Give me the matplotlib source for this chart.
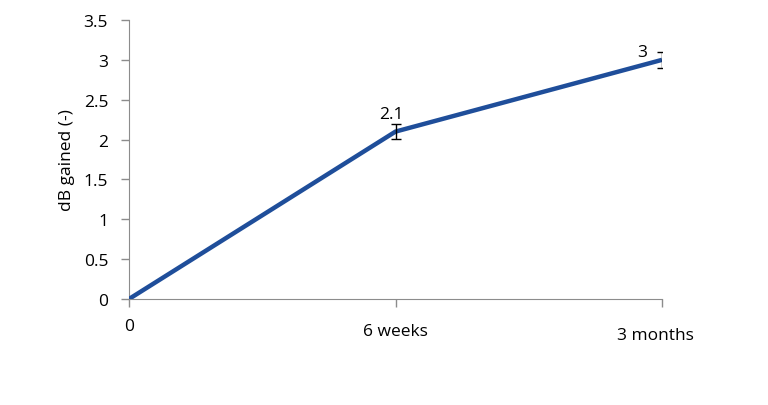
import matplotlib.pyplot as plt
import matplotlib.transforms as mtransforms

# Data
labels = ['0', '6 weeks', '3 months']
values = [0, 2.1, 3]
errors = [0, 0.09, 0.1]
label_shift = [(0, 0), (0, -5), (-7, -9)]  # Excel-style staggered tick labels (px)

plt.rcParams['font.family'] = ['Open Sans', 'DejaVu Sans']
fs = 12.5

fig = plt.figure(figsize=(7.68, 4.06), dpi=100)
ax = fig.add_axes([129 / 768, 1 - 300 / 406, 533 / 768, 279 / 406])

x = list(range(len(values)))
ax.plot(x, values, color='#1f4e9a', lw=3.2, solid_capstyle='butt', zorder=3)
ax.errorbar(x[1:], values[1:], yerr=errors[1:], fmt='none', ecolor='black',
            elinewidth=1, capsize=3.5, capthick=1, zorder=4)

# Data labels
ax.annotate('2.1', (x[1], values[1]), xytext=(-3, 7), textcoords='offset points',
            ha='center', va='bottom', fontsize=fs)
ax.annotate('3', (x[2], values[2]), xytext=(-14, 0), textcoords='offset points',
            ha='center', va='bottom', fontsize=fs)

ax.set_xlim(0, 2)
ax.set_ylim(0, 3.5)
ax.set_yticks([0, 0.5, 1, 1.5, 2, 2.5, 3, 3.5])
ax.set_yticklabels(['0', '0.5', '1', '1.5', '2', '2.5', '3', '3.5'])
ax.set_xticks(x)
ax.set_xticklabels(labels)
ax.set_ylabel('dB gained (-)', fontsize=fs, labelpad=6)

for spine in ['top', 'right']:
    ax.spines[spine].set_visible(False)
for spine in ['left', 'bottom']:
    ax.spines[spine].set_color('#8c8c8c')
ax.tick_params(axis='both', colors='#8c8c8c', labelcolor='black', labelsize=fs,
               length=6, width=1, direction='out')
ax.tick_params(axis='x', pad=8)
ax.tick_params(axis='y', pad=9)

for lbl, (dx, dy) in zip(ax.get_xticklabels(), label_shift):
    lbl.set_transform(lbl.get_transform() +
                      mtransforms.ScaledTranslation(dx / 100, dy / 100, fig.dpi_scale_trans))

fig.savefig('out.png', dpi=100)
